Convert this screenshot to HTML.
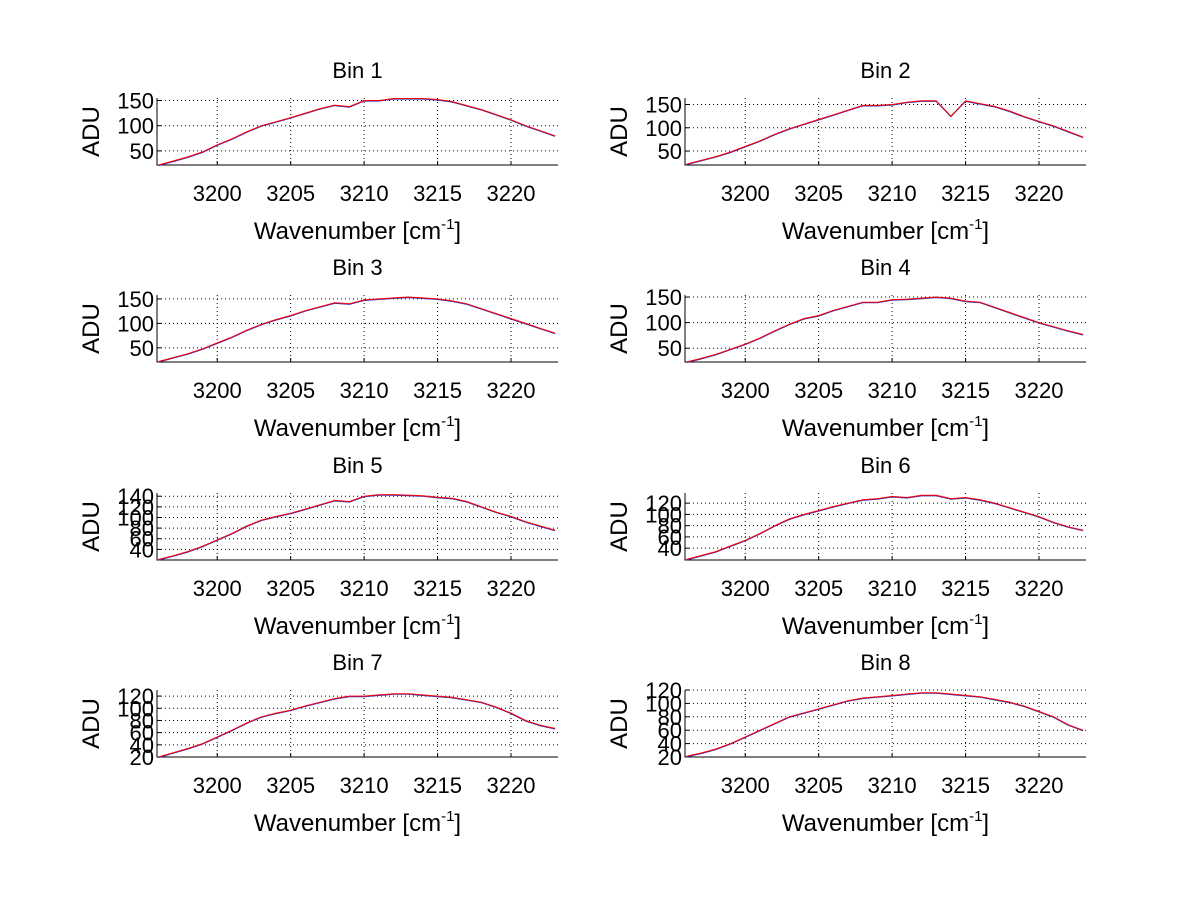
<!DOCTYPE html>
<html><head><meta charset="utf-8"><style>
html,body{margin:0;padding:0;background:#fff;}
svg{display:block;font-family:"Liberation Sans",sans-serif;}
</style></head><body>
<svg id="fig" width="1200" height="901" viewBox="0 0 1200 901"></svg>
<script>
const wavenumbers = [3196,3197,3198,3199,3200,3201,3202,3203,3204,3205,3206,3207,3208,3209,3210,3211,3212,3213,3214,3215,3216,3217,3218,3219,3220,3221,3222,3223];
const bin1 = [22,30,38,48,62,74,88,100,108,116,125,134,141,138,150,150,154,154,154,152,148,140,132,122,112,100,90,80];
const bin2 = [22,30,38,48,60,72,86,98,108,118,128,138,148,148,150,155,158,158,125,158,152,146,136,124,114,104,92,80];
const bin3 = [22,30,38,48,60,72,86,98,108,116,126,134,142,140,148,150,152,154,152,150,146,140,130,120,110,100,90,80];
const bin4 = [23,30,38,48,58,70,84,97,108,114,124,132,140,140,145,146,148,150,148,142,140,130,120,110,100,92,84,77];
const bin5 = [21,28,36,46,58,70,84,95,102,108,116,124,132,130,140,143,143,142,141,138,136,130,120,110,102,92,84,76];
const bin6 = [20,27,34,44,54,66,80,92,100,107,114,120,126,128,132,130,134,134,128,130,126,120,112,104,96,86,78,72];
const bin7 = [20,27,34,42,53,64,76,86,92,97,104,110,116,120,120,122,124,124,122,120,118,114,110,102,92,80,72,67];
const bin8 = [21,26,32,40,50,60,70,80,86,92,98,104,108,110,112,114,116,116,114,112,110,106,102,96,88,80,68,60];
const series = [bin1,bin2,bin3,bin4,bin5,bin6,bin7,bin8];
const titles = ["Bin 1","Bin 2","Bin 3","Bin 4","Bin 5","Bin 6","Bin 7","Bin 8"];
const xTicks = [3200,3205,3210,3215,3220];
const yMins = [22,20,21,23,20,19,20,20];
const yMaxs = [155,164,158,154,146,138,130,120];
const yTicks = [[50,100,150],[50,100,150],[50,100,150],[50,100,150],[40,60,80,100,120,140],[40,60,80,100,120],[20,40,60,80,100,120],[20,40,60,80,100,120]];
const xMin = 3195.9, xMax = 3223.2;

const svg = document.getElementById('fig');
const NS = 'http://www.w3.org/2000/svg';
function mk(tag, attrs, parent){const e=document.createElementNS(NS,tag);for(const k in attrs)e.setAttribute(k,attrs[k]);parent.appendChild(e);return e;}

const lefts=[157,685], rights=[558,1086];
const tops=[98,295,493,690], bottoms=[165,362,560,757];

for(let i=0;i<8;i++){
  const col=i%2,row=Math.floor(i/2);
  const L=lefts[col],R=rights[col],T=tops[row],B=bottoms[row];
  const sx=v=>L+(v-xMin)/(xMax-xMin)*(R-L);
  const sy=v=>B-(v-yMins[i])/(yMaxs[i]-yMins[i])*(B-T);
  const g=mk('g',{},svg);
  
  
  xTicks.forEach(t=>{
    const l=mk('line',{x1:sx(t),x2:sx(t),y1:T,y2:B,stroke:'#000','stroke-width':1,'stroke-dasharray':'1,3'},g);
    
    
    const tk=mk('line',{x1:sx(t),x2:sx(t),y1:B,y2:B-4,stroke:'#000'},g);
    
    
    const tx=mk('text',{x:sx(t),y:B+36,'text-anchor':'middle','font-size':22,fill:'#000'},g);
    tx.textContent=t;
    
    
  });
  yTicks[i].forEach(t=>{
    const l=mk('line',{x1:L,x2:R,y1:sy(t),y2:sy(t),stroke:'#000','stroke-width':1,'stroke-dasharray':'1,3'},g);
    
    
    const tk=mk('line',{x1:L,x2:L+4,y1:sy(t),y2:sy(t),stroke:'#000'},g);
    
    
    const tx=mk('text',{x:L-3,y:sy(t)+8,'text-anchor':'end','font-size':22,fill:'#000'},g);
    tx.textContent=t;
    
    
  });
  const ax=mk('path',{d:`M${L},${T}V${B}H${R}`,fill:'none',stroke:'#000','stroke-width':1},g);
  
  
  const pts=series[i].map((v,j)=>sx(wavenumbers[j]).toFixed(1)+','+sy(v).toFixed(1)).join(' ');
  const pb=mk('polyline',{points:pts,fill:'none',stroke:'#3030c0','stroke-width':1,transform:'translate(0,0.6)'},g);
  
  
  const pr=mk('polyline',{points:pts,fill:'none',stroke:'#ff0000','stroke-width':1},g);
  
  
  const ti=mk('text',{x:(L+R)/2,y:T-20,'text-anchor':'middle','font-size':22,fill:'#000'},g);
  ti.textContent=titles[i];
  
  
  const xl=mk('text',{x:(L+R)/2,y:B+74,'text-anchor':'middle','font-size':24,fill:'#000'},g);
  xl.innerHTML='Wavenumber [cm<tspan dy="-10" font-size="15">-1</tspan><tspan dy="10">]</tspan>';
  
  
  const cy=(T+B)/2, cx=L-67;
  const yl=mk('text',{x:cx,y:cy,'text-anchor':'middle','font-size':24,fill:'#000',transform:`rotate(-90 ${cx} ${cy}) translate(0,9)`},g);
  yl.textContent='ADU';
  
  
}
</script>
</body></html>
